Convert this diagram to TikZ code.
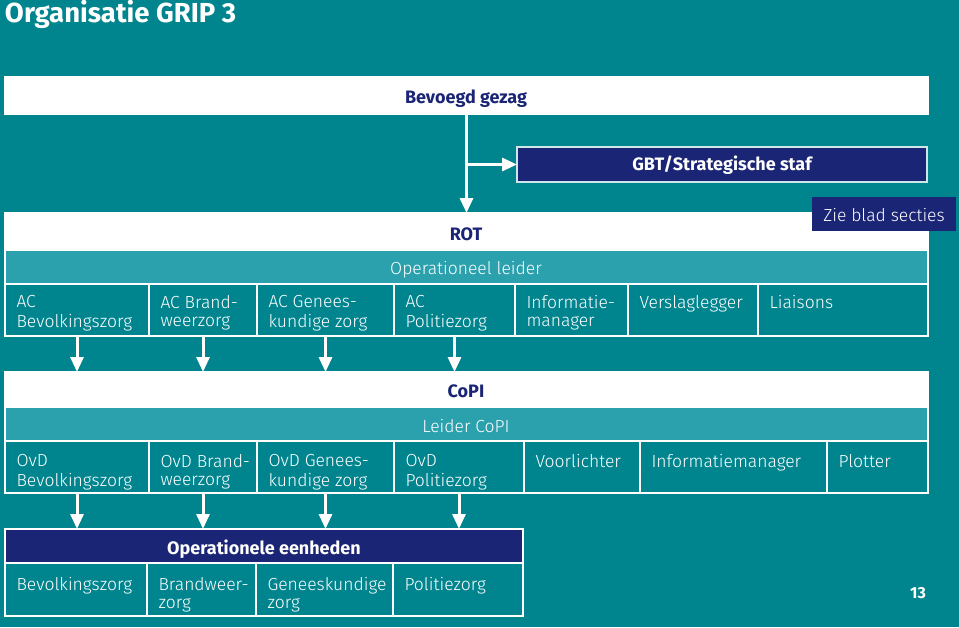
\documentclass[tikz,border=0pt]{standalone}
\usepackage{fontspec}
\setmainfont{Fira Sans Light}[BoldFont={Fira Sans Bold}]
\usetikzlibrary{arrows.meta}
\definecolor{bg}{HTML}{00858F}
\definecolor{band}{HTML}{2AA1AD}
\definecolor{navy}{HTML}{1B2575}
\begin{document}
\begin{tikzpicture}[x=1pt,y=-1pt,
  every node/.style={inner sep=0pt, outer sep=0pt},
  box/.style={draw=white, line width=1.5pt, anchor=north west, rectangle},
  ctext/.style={anchor=north west, align=left, text=white, font=\fontsize{17.5}{18.5}\selectfont},
  ntext/.style={anchor=base, text=white, font=\fontsize{17.5}{20}\selectfont},
  btext/.style={anchor=base, font=\bfseries\fontsize{18}{20}\selectfont},
  arr/.style={draw=white, line width=3pt, -{Triangle[width=13pt,length=15pt]}}]
\path[fill=bg, use as bounding box] (0,0) rectangle (959,627);
\node[anchor=base west, text=white, font=\bfseries\fontsize{27.5}{30}\selectfont] (title) at (5,22) {Organisatie GRIP 3};

% Bevoegd gezag
\node[box, fill=white, minimum width=923pt, minimum height=37pt] (bev) at (5,77) {};
\node[btext, text=navy] (bevt) at (466,103) {Bevoegd gezag};

% GBT
\node[box, draw=white!80!bg, fill=navy, minimum width=410pt, minimum height=35pt] (gbt) at (517,147) {};
\node[btext, text=white] (gbtt) at (722,170) {GBT/Strategische staf};

% ROT
\node[box, fill=white, minimum width=923pt, minimum height=37pt] (rot) at (5,213) {};
\node[btext, text=navy] (rott) at (466,240) {ROT};
\node[box, fill=band, minimum width=923pt, minimum height=34pt] (opl) at (5,250) {};
\node[ntext] (oplt) at (466,274) {Operationeel leider};
\foreach \xa/\xb/\t [count=\i] in {5/149/{AC\\Bevolkingszorg}, 149/257/{AC Brand-\\weerzorg}, 257/394/{AC Genees-\\kundige zorg}, 394/515/{AC\\Politiezorg}, 515/628/{Informatie-\\manager}, 628/758/{Verslaglegger}, 758/928/{Liaisons}}{
  \node[box, fill=bg, minimum width={(\xb-\xa)*1pt}, minimum height=52pt] (ra\i) at (\xa,284) {};
  \node[ctext] (rat\i) at (\xa+11.5,295) {\strut\t};
}

% Zie blad secties
\node[anchor=north west, fill=navy, minimum width=144pt, minimum height=34pt] (zie) at (812,197) {};
\node[ntext] (ziet) at (884,221) {Zie blad secties};

% CoPI
\node[box, fill=white, minimum width=923pt, minimum height=35pt] (copi) at (5,372) {};
\node[btext, text=navy] (copit) at (466,397) {CoPI};
\node[box, fill=band, minimum width=923pt, minimum height=34pt] (lc) at (5,407) {};
\node[ntext] (lct) at (466,432) {Leider CoPI};
\foreach \xa/\xb/\t [count=\i] in {5/149/{OvD\\Bevolkingszorg}, 149/257/{OvD Brand-\\weerzorg}, 257/394/{OvD Genees-\\kundige zorg}, 394/524/{OvD\\Politiezorg}, 524/640/{Voorlichter}, 640/827/{Informatiemanager}, 827/928/{Plotter}}{
  \node[box, fill=bg, minimum width={(\xb-\xa)*1pt}, minimum height=52pt] (rb\i) at (\xa,441) {};
  \node[ctext] (rbt\i) at (\xa+11.5,454) {\strut\t};
}

% Operationele eenheden
\node[box, fill=navy, minimum width=518pt, minimum height=34pt] (oe) at (5,529) {};
\node[btext, text=white] (oet) at (264,554) {Operationele eenheden};
\foreach \xa/\xb/\t [count=\i] in {5/147/{Bevolkingszorg}, 147/256/{Brandweer-\\zorg}, 256/393/{Geneeskundige\\zorg}, 393/523/{Politiezorg}}{
  \node[box, fill=bg, minimum width={(\xb-\xa)*1pt}, minimum height=53pt] (rc\i) at (\xa,563) {};
  \node[ctext] (rct\i) at (\xa+11.5,577) {\strut\t};
}

% arrows
\draw[arr] (bev.south) -- (rot.north);
\draw[arr] (bev.south |- gbt.west) -- (gbt.west);
\foreach \i in {1,2,3,4}{
  \draw[arr] (ra\i.south) -- (ra\i.south |- copi.north);
  \draw[arr] (rb\i.south) -- (rb\i.south |- oe.north);
}

\node[anchor=base, text=white, font=\bfseries\fontsize{16}{18}\selectfont] (pg) at (918,598) {13};
\end{tikzpicture}
\end{document}
